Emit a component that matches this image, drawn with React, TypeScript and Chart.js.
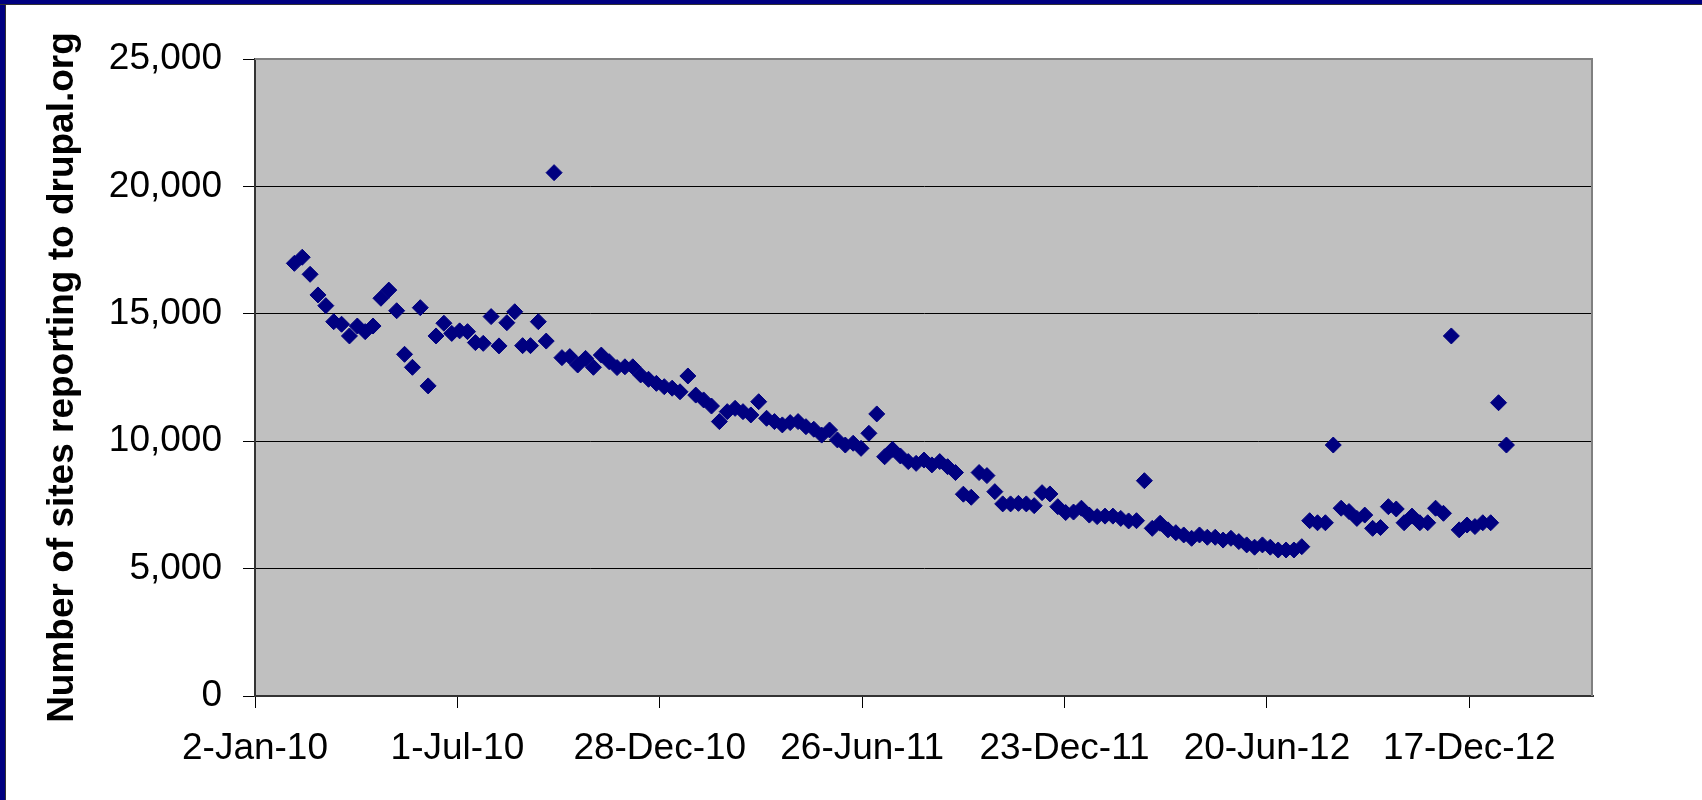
import React, { useEffect, useRef } from "react";
import { Chart, registerables } from "chart.js";

Chart.register(...registerables);

// Weekly report dates
const weekDates: string[] = [
  "2010-02-06","2010-02-13","2010-02-20","2010-02-27","2010-03-06","2010-03-13","2010-03-20","2010-03-27",
  "2010-04-03","2010-04-10","2010-04-17","2010-04-24","2010-05-01","2010-05-08","2010-05-15","2010-05-22",
  "2010-05-29","2010-06-05","2010-06-12","2010-06-19","2010-06-26","2010-07-03","2010-07-10","2010-07-17",
  "2010-07-24","2010-07-31","2010-08-07","2010-08-14","2010-08-21","2010-08-28","2010-09-04","2010-09-11",
  "2010-09-18","2010-09-25","2010-10-02","2010-10-09","2010-10-16","2010-10-23","2010-10-30","2010-11-06",
  "2010-11-13","2010-11-20","2010-11-27","2010-12-04","2010-12-11","2010-12-18","2010-12-25",
  "2011-01-01","2011-01-08","2011-01-15","2011-01-22","2011-01-29","2011-02-05","2011-02-12","2011-02-19",
  "2011-02-26","2011-03-05","2011-03-12","2011-03-19","2011-03-26","2011-04-02","2011-04-09","2011-04-16",
  "2011-04-23","2011-04-30","2011-05-07","2011-05-14","2011-05-21","2011-05-28","2011-06-04","2011-06-11",
  "2011-06-18","2011-06-25","2011-07-02","2011-07-09","2011-07-16","2011-07-23","2011-07-30","2011-08-06",
  "2011-08-13","2011-08-20","2011-08-27","2011-09-03","2011-09-10","2011-09-17","2011-09-24","2011-10-01",
  "2011-10-08","2011-10-15","2011-10-22","2011-10-29","2011-11-05","2011-11-12","2011-11-19","2011-11-26",
  "2011-12-03","2011-12-10","2011-12-17","2011-12-24","2011-12-31",
  "2012-01-07","2012-01-14","2012-01-21","2012-01-28","2012-02-04","2012-02-11","2012-02-18","2012-02-25",
  "2012-03-03","2012-03-10","2012-03-17","2012-03-24","2012-03-31","2012-04-07","2012-04-14","2012-04-21",
  "2012-04-28","2012-05-05","2012-05-12","2012-05-19","2012-05-26","2012-06-02","2012-06-09","2012-06-16",
  "2012-06-23","2012-06-30","2012-07-07","2012-07-14","2012-07-21","2012-07-28","2012-08-04","2012-08-11",
  "2012-08-18","2012-08-25","2012-09-01","2012-09-08","2012-09-15","2012-09-22","2012-09-29","2012-10-06",
  "2012-10-13","2012-10-20","2012-10-27","2012-11-03","2012-11-10","2012-11-17","2012-11-24","2012-12-01",
  "2012-12-08","2012-12-15","2012-12-22","2012-12-29",
  "2013-01-05","2013-01-12","2013-01-19",
];

// Number of sites reporting to drupal.org
const siteCounts: number[] = [
  16980, 17220, 16550, 15740, 15320, 14690, 14590, 14130, 14520, 14300,
  14520, 15610, 15930, 15120, 13410, 12900, 15240, 12170, 14130, 14630,
  14230, 14330, 14300, 13870, 13840, 14890, 13740, 14650, 15080, 13750,
  13750, 14690, 13930, 20540, 13280, 13320, 12990, 13250, 12900, 13380,
  13120, 12890, 12920, 12920, 12600, 12430, 12270, 12140, 12080, 11940,
  12560, 11810, 11620, 11380, 10770, 11160, 11290, 11160, 11030, 11550,
  10900, 10770, 10640, 10730, 10770, 10570, 10470, 10240, 10440, 10050,
  9850, 9920, 9720, 10310, 11070, 9390, 9680, 9420, 9200, 9130,
  9260, 9070, 9200, 9000, 8770, 7920, 7800, 8770, 8650, 8020,
  7540, 7540, 7560, 7540, 7470, 7980, 7930, 7430, 7200, 7220,
  7370, 7100, 7040, 7060, 7060, 6970, 6870, 6880, 8450, 6580,
  6780, 6520, 6410, 6320, 6190, 6320, 6230, 6230, 6120, 6190,
  6060, 5930, 5840, 5930, 5840, 5730, 5730, 5730, 5860, 6880,
  6800, 6800, 9850, 7370, 7240, 6970, 7100, 6580, 6610, 7430,
  7340, 6800, 7060, 6800, 6800, 7370, 7170, 14130, 6520, 6710,
  6650, 6800, 6800, 11510, 9850,
];

// Axis definitions
const axisStartDate = "2010-01-02";
const axisSpanDays = 1190;
const xTickStepDays = 180;
const yMin = 0;
const yMax = 25000;
const yTickStep = 5000;
const monthNames = ["Jan","Feb","Mar","Apr","May","Jun","Jul","Aug","Sep","Oct","Nov","Dec"];
const yTitle = "Number of sites reporting to drupal.org";

const DAY_MS = 86400000;
const parseUTC = (s: string) => {
  const [y, m, d] = s.split("-").map(Number);
  return Date.UTC(y, m - 1, d);
};
const t0 = parseUTC(axisStartDate);
const toDays = (s: string) => Math.round((parseUTC(s) - t0) / DAY_MS);
const fmtDay = (v: number) => {
  const dt = new Date(t0 + v * DAY_MS);
  return `${dt.getUTCDate()}-${monthNames[dt.getUTCMonth()]}-${String(dt.getUTCFullYear() % 100).padStart(2, "0")}`;
};

const FONT = "'Liberation Sans', Arial, Helvetica, sans-serif";
const NAVY = "#000080";

const framePlugin = {
  id: "frame",
  beforeDraw(chart: any) {
    const { ctx, chartArea: a, width, height } = chart;
    ctx.save();
    ctx.fillStyle = "#ffffff";
    ctx.fillRect(0, 0, width, height);
    ctx.fillStyle = NAVY;
    ctx.fillRect(0, 0, width, 4);
    ctx.fillRect(0, 0, 5, height);
    ctx.fillStyle = "#333333";
    ctx.fillRect(0, 4, width, 1);
    ctx.fillRect(5, 4, 1, height - 4);
    ctx.fillStyle = "#c0c0c0";
    ctx.fillRect(a.left, a.top, a.right - a.left, a.bottom - a.top);
    ctx.restore();
  },
  beforeDatasetsDraw(chart: any) {
    const { ctx, chartArea: a } = chart;
    ctx.save();
    ctx.strokeStyle = "#808080";
    ctx.lineWidth = 2;
    ctx.beginPath();
    ctx.moveTo(a.left, a.top);
    ctx.lineTo(a.right - 1, a.top);
    ctx.lineTo(a.right - 1, a.bottom);
    ctx.stroke();
    ctx.restore();
  },
};

export default function App() {
  const ref = useRef<HTMLCanvasElement | null>(null);

  useEffect(() => {
    if (!ref.current) return;
    const points = weekDates.map((d, i) => ({ x: toDays(d), y: siteCounts[i] }));
    const chart = new Chart(ref.current, {
      type: "scatter",
      data: {
        datasets: [
          {
            data: points,
            pointStyle: "rectRot",
            pointRadius: 8,
            pointHoverRadius: 8,
            pointBorderWidth: 1,
            backgroundColor: NAVY,
            borderColor: NAVY,
            showLine: false,
          },
        ],
      },
      options: {
        responsive: false,
        animation: false,
        events: [],
        layout: { padding: { left: 0, top: 59, right: 109, bottom: 0 } },
        plugins: {
          legend: { display: false },
          tooltip: { enabled: false },
          title: { display: false },
        },
        scales: {
          x: {
            type: "linear",
            min: 0,
            max: axisSpanDays,
            afterFit: (s: any) => {
              s.height = 104;
            },
            ticks: {
              stepSize: xTickStepDays,
              includeBounds: false,
              autoSkip: false,
              maxRotation: 0,
              minRotation: 0,
              padding: 19,
              color: "#000",
              font: { family: FONT, size: 37 },
              callback: (v: any) => fmtDay(Number(v)),
            },
            grid: {
              drawOnChartArea: false,
              drawTicks: true,
              tickLength: 12,
              color: "#000",
              lineWidth: 1,
            },
            border: { color: "#333", width: 2 },
          },
          y: {
            min: yMin,
            max: yMax,
            afterFit: (s: any) => {
              s.width = 255;
            },
            ticks: {
              stepSize: yTickStep,
              padding: 21,
              color: "#000",
              font: { family: FONT, size: 37 },
              callback: (v: any) => Number(v).toLocaleString("en-US"),
            },
            grid: { color: "#000", lineWidth: 1, tickLength: 12 },
            border: { color: "#333", width: 2 },
            title: {
              display: true,
              text: yTitle,
              color: "#000",
              font: { family: FONT, size: 37, weight: "bold" },
              padding: { top: 41, bottom: 0 },
            },
          },
        },
      },
      plugins: [framePlugin],
    });
    return () => chart.destroy();
  }, []);

  return (
    <div style={{ position: "fixed", left: 0, top: 0, width: 1702, height: 800, background: "#fff" }}>
      <canvas ref={ref} width={1702} height={800} style={{ display: "block", width: 1702, height: 800 }} />
    </div>
  );
}
